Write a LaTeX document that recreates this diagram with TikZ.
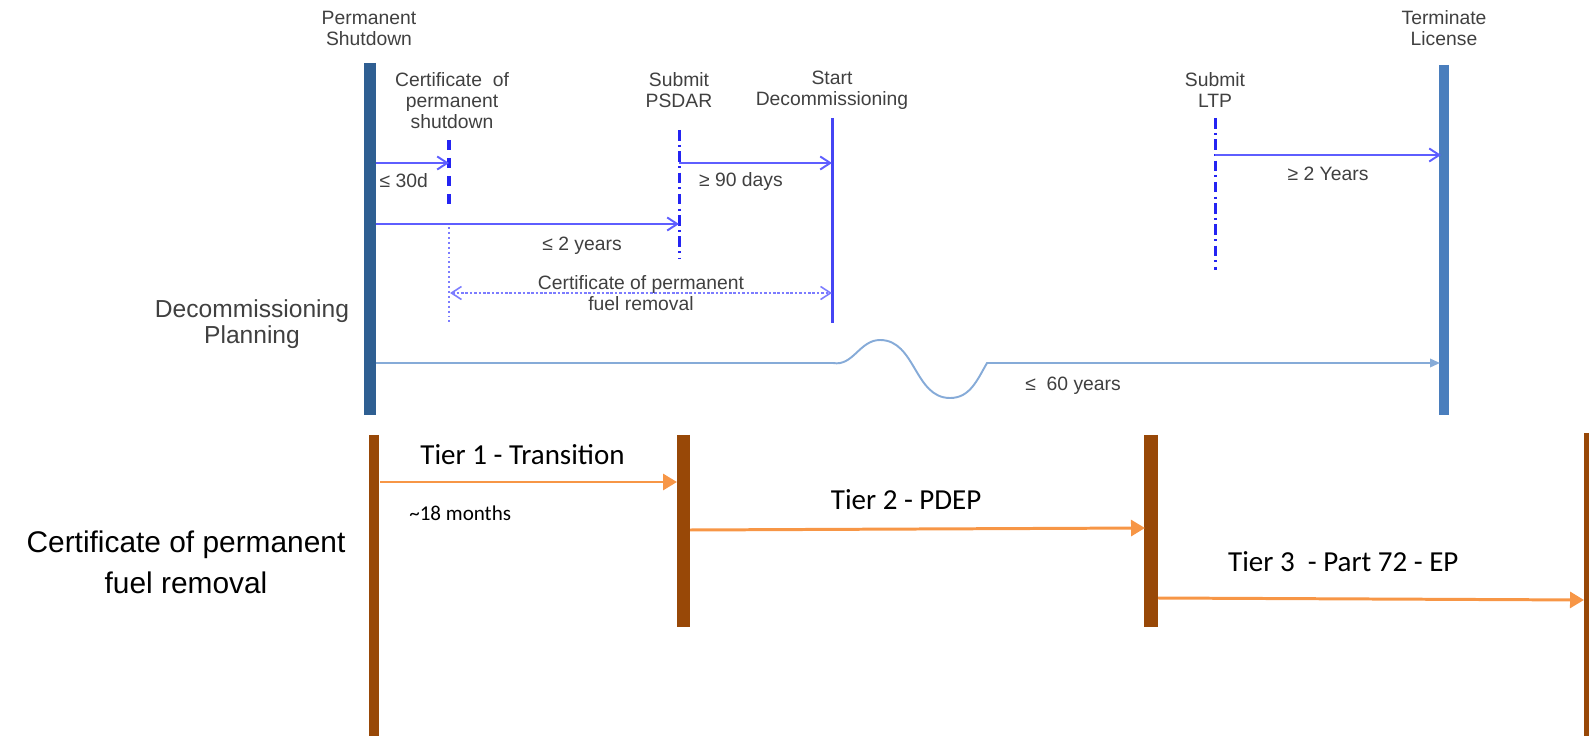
\documentclass[tikz,border=0pt]{standalone}
\usepackage{fontspec}
\setmainfont{Liberation Sans}
\newfontfamily\tierfont{Carlito}
\usepackage{xcolor}
\usetikzlibrary{arrows.meta, positioning}

\definecolor{labgray}{HTML}{404040}
\definecolor{shutblue}{HTML}{2F5F92}
\definecolor{termblue}{HTML}{4A7EBD}
\definecolor{evblue}{HTML}{2424F2}
\definecolor{arrblue}{HTML}{5E5EFF}
\definecolor{fuelblue}{HTML}{7C7CFF}
\definecolor{planblue}{HTML}{86ABD8}
\definecolor{tierorange}{HTML}{F79646}
\definecolor{tierbrown}{HTML}{984807}

\begin{document}
\begin{tikzpicture}[
    x=0.02cm, y=-0.02cm,
    lbl/.style={font=\fontsize{11}{12}\selectfont, text=labgray, align=center, inner sep=0pt},
    biglbl/.style={font=\fontsize{14}{14.5}\selectfont, text=labgray, align=center, inner sep=0pt},
    tierlbl/.style={font=\tierfont\fontsize{16.5}{18}\selectfont, text=black, inner sep=0pt},
    shutbar/.style={line width=6.3pt, shutblue},
    termbar/.style={line width=5.7pt, termblue},
    dashmark/.style={line width=1.9pt, evblue, dash pattern=on 5.7pt off 4.5pt},
    dotmark/.style={line width=0.85pt, fuelblue, dash pattern=on 1.1pt off 1.7pt},
    dashdot/.style={line width=1.7pt, evblue, dash pattern=on 6pt off 2.5pt on 1.1pt off 2.5pt},
    startline/.style={line width=1.7pt, evblue!85!white},
    arr/.style={-{Straight Barb[length=0.2cm, width=0.26cm]}, line width=1.1pt, arrblue},
    fuelarr/.style={{Straight Barb[length=0.2cm, width=0.26cm]}-{Straight Barb[length=0.2cm, width=0.26cm]},
                    line width=0.9pt, fuelblue, dash pattern=on 1.5pt off 1pt},
    planarr/.style={-{Triangle[length=0.2cm, width=0.17cm]}, line width=1.1pt, planblue},
    brownbar/.style={tierbrown},
    tierarr/.style={-{Triangle[length=0.28cm, width=0.32cm]}, line width=1.7pt, tierorange}
]
\useasboundingbox (0,0) rectangle (1589,736);

% top: decommissioning planning
\node[lbl] (pslbl) at (369,28) {Permanent\\Shutdown};
\node[lbl] (cpslbl) at (452,101) {Certificate\ \ of\\permanent\\shutdown};
\node[lbl] (psdarlbl) at (679,90) {Submit\\PSDAR};
\node[lbl] (startlbl) at (832,90) {Start\\Decommissioning};
\node[lbl] (ltplbl) at (1215,90) {Submit\\LTP};
\node[lbl] (termlbl) at (1444,28) {Terminate\\License};
\node[biglbl] (planlbl) at (252,324) {Decommissioning\\Planning};

\coordinate (ps-top) at (370,63);
\coordinate (ps-bot) at (370,415);
\coordinate (tl-top) at (1444,65);
\coordinate (tl-bot) at (1444,415);
\coordinate (cs-top) at (449,140);
\coordinate (cs-mid) at (449,207);
\coordinate (cs-low) at (449,227);
\coordinate (cs-bot) at (449,325);
\coordinate (pd-top) at (679,130);
\coordinate (pd-bot) at (679,258);
\coordinate (sd-top) at (832,118);
\coordinate (sd-bot) at (832,323);
\coordinate (lt-top) at (1215,118);
\coordinate (lt-bot) at (1215,270);

\draw[shutbar] (ps-top) -- (ps-bot);
\draw[termbar] (tl-top) -- (tl-bot);
\draw[dashmark] (cs-top) -- (cs-mid);
\draw[dotmark] (cs-low) -- (cs-bot);
\draw[dashdot] (pd-top) -- (pd-bot);
\draw[startline] (sd-top) -- (sd-bot);
\draw[dashdot] (lt-top) -- (lt-bot);

\coordinate (ps-30) at (376,163);
\coordinate (cs-30) at (449,163);
\coordinate (ps-2y) at (376,224);
\coordinate (pd-2y) at (679,224);
\coordinate (pd-90) at (679,163);
\coordinate (sd-90) at (832,163);
\coordinate (lt-2y) at (1215,155);
\coordinate (tl-2y) at (1441,155);
\coordinate (cs-fuel) at (450,293);
\coordinate (sd-fuel) at (832,293);
\coordinate (ps-plan) at (376,363);
\coordinate (wave-in) at (833,363);
\coordinate (wave-up) at (880,340);
\coordinate (wave-dn) at (950,398);
\coordinate (wave-out) at (987,363);
\coordinate (tl-plan) at (1440,363);

\draw[arr] (ps-30) -- node[lbl, below=5.7pt, pos=.38] {≤ 30d} (cs-30);
\draw[arr] (ps-2y) -- node[lbl, below=6.8pt, pos=.68] {≤ 2 years} (pd-2y);
\draw[arr] (pd-90) -- node[lbl, below=4.6pt, pos=.405] {≥ 90 days} (sd-90);
\draw[arr] (lt-2y) -- node[lbl, below=6.3pt, pos=.5] {≥ 2 Years} (tl-2y);
\draw[fuelarr] (cs-fuel) -- node[lbl] (fuellbl) {Certificate of permanent\\fuel removal} (sd-fuel);
\draw[planarr] (ps-plan) -- (wave-in) to[out=-10, in=180] (wave-up)
    to[out=0, in=180] (wave-dn) to[out=0, in=240] (wave-out)
    -- node[lbl, below=7.4pt, pos=.19] {≤\ \ 60 years} (tl-plan);

% bottom: tiers
\node[font=\fontsize{17}{23.3}\selectfont, align=center, inner sep=0pt] (cpfrlbl) at (186,562) {Certificate of permanent\\fuel removal};

\coordinate (t1-top) at (374,435);
\coordinate (t1-bot) at (374,736);
\coordinate (t2-top) at (683,435);
\coordinate (t2-bot) at (683,627);
\coordinate (t3-top) at (1151,435);
\coordinate (t3-bot) at (1151,627);
\coordinate (t4-top) at (1586.5,433);
\coordinate (t4-bot) at (1586.5,736);

\draw[brownbar, line width=5.7pt] (t1-top) -- (t1-bot);
\draw[brownbar, line width=7.4pt] (t2-top) -- (t2-bot);
\draw[brownbar, line width=8pt] (t3-top) -- (t3-bot);
\draw[brownbar, line width=2.8pt] (t4-top) -- (t4-bot);

\coordinate (t1-out) at (380,482);
\coordinate (t2-in) at (677,482);
\coordinate (t2-out) at (690,530);
\coordinate (t3-in) at (1145,528);
\coordinate (t3-out) at (1158,598);
\coordinate (t4-in) at (1584,600);

\draw[tierarr] (t1-out) -- node[tierlbl, above=9pt, pos=.48] {Tier 1 - Transition}
    node[tierlbl, font=\tierfont\fontsize{12}{13}\selectfont, below=13pt, pos=.27] {\textasciitilde 18 months} (t2-in);
\draw[tierarr] (t2-out) -- node[tierlbl, above=10pt, pos=.475] {Tier 2 - PDEP} (t3-in);
\draw[tierarr] (t3-out) -- node[tierlbl, above=14.8pt, pos=.435] {Tier 3\ \ - Part 72 - EP} (t4-in);
\end{tikzpicture}
\end{document}
